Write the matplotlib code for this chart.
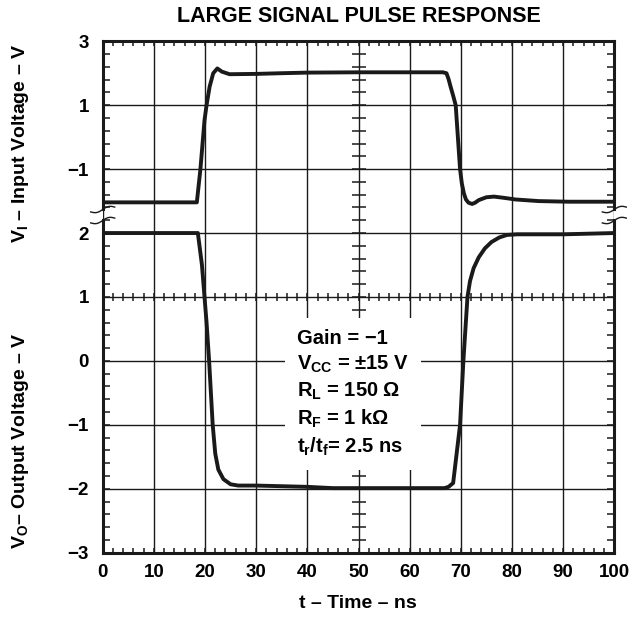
import numpy as np
import matplotlib
matplotlib.use("Agg")
import matplotlib.pyplot as plt
from matplotlib.ticker import FixedLocator, MultipleLocator
from matplotlib.lines import Line2D

plt.rcParams['font.family'] = ['Liberation Sans', 'DejaVu Sans']
plt.rcParams['font.weight'] = 'bold'
plt.rcParams['mathtext.fontset'] = 'custom'
plt.rcParams['mathtext.rm'] = 'Liberation Sans:bold'
plt.rcParams['mathtext.it'] = 'Liberation Sans:bold'
plt.rcParams['mathtext.bf'] = 'Liberation Sans:bold'
plt.rcParams['mathtext.default'] = 'rm'

# input pulse, V_I (top panel)
t_in = [0, 18.4, 19.1, 19.9, 20.3, 20.9, 21.6, 22.4, 23.3, 24.8, 30, 34.6, 40,
        50, 60, 66.5, 67.2, 67.6, 68.0, 68.5, 69.0, 69.85, 70.2, 70.6, 71.0,
        71.5, 72.2, 72.8, 73.5, 75.0, 76.5, 78.5, 80.7, 85.2, 91.1, 100]
v_in = [-2.04, -2.04, -1.0, 0.53, 1.0, 1.58, 2.0, 2.15, 2.05, 1.97, 1.98, 2.0,
        2.02, 2.03, 2.03, 2.03, 2.0, 1.82, 1.58, 1.3, 1.0, -1.0, -1.45, -1.76,
        -1.95, -2.05, -2.09, -2.05, -1.97, -1.88, -1.86, -1.9, -1.95, -2.0,
        -2.02, -2.02]

# output pulse, V_O (bottom panel)
t_out = [0, 18.6, 19.4, 20.3, 20.8, 21.5, 22.0, 22.6, 23.6, 25.0, 26.5, 30,
         40, 45, 60, 66.8, 67.6, 68.5, 69.85, 70.5, 71.3, 71.8, 72.5, 73.5,
         74.7, 76.0, 77.5, 79.0, 81.0, 90, 100]
v_out = [2.0, 2.0, 1.5, 0.6, 0.0, -1.0, -1.45, -1.7, -1.85, -1.93, -1.95,
         -1.95, -1.97, -1.99, -1.99, -1.99, -1.97, -1.91, -1.0, 0.0, 1.0, 1.25,
         1.45, 1.62, 1.76, 1.86, 1.93, 1.97, 1.98, 1.98, 2.0]

time_ticks = list(range(0, 101, 10))
in_ticks = [3, 1, -1]
out_ticks = [2, 1, 0, -1, -2, -3]
conditions = ["Gain = \u22121",
              "V$_{CC}$ = \u00b115 V",
              "R$_L$ = 150 \u03a9",
              "R$_F$ = 1 k\u03a9",
              "t$_r$/t$_f$= 2.5 ns"]

W, H = 642, 621
ink = '#1a1a1a'
fig = plt.figure(figsize=(W / 100, H / 100), dpi=100)


def box(l, t, r, b):
    return [l / W, 1 - b / H, (r - l) / W, (b - t) / H]


ax_in = fig.add_axes(box(102.7, 41.3, 614.3, 214.5))
ax_out = fig.add_axes(box(102.7, 214.5, 614.3, 552.7))
ax_in.set_ylim(-2.42, 3)
ax_out.set_ylim(-3, 2.29)

in_minor = np.arange(3, -2.3, -0.4)
out_minor = np.arange(2.2, -3.05, -0.2)

for ax in (ax_in, ax_out):
    ax.set_xlim(0, 100)
    ax.xaxis.set_major_locator(FixedLocator(time_ticks))
    ax.xaxis.set_minor_locator(MultipleLocator(2))
    ax.grid(True, which='major', color=ink, lw=1.0, zorder=1)
    ax.tick_params(which='both', direction='in', top=True, bottom=True,
                   left=True, right=True, width=1.1, color=ink,
                   labelsize=13.5, labelcolor='black')
    ax.tick_params(axis='y', which='both', length=5, pad=10)
    ax.tick_params(axis='x', which='both', length=3.6, pad=8)
    for s in ax.spines.values():
        s.set_linewidth(2.2)
        s.set_color(ink)

ax_in.yaxis.set_major_locator(FixedLocator(in_ticks))
ax_in.yaxis.set_minor_locator(FixedLocator(in_minor))
ax_out.yaxis.set_major_locator(FixedLocator(out_ticks))
ax_out.yaxis.set_minor_locator(FixedLocator(out_minor))

ax_in.tick_params(axis='x', which='both', bottom=False, labelbottom=False)
ax_out.tick_params(axis='x', which='both', top=False)
ax_in.spines['bottom'].set_visible(False)
ax_out.spines['top'].set_visible(False)
for side in ('left', 'right'):
    ax_in.spines[side].set_bounds(-2.25, 3)
    ax_out.spines[side].set_bounds(-3, 2.2)

# scope-style centre graticule marks
ax_in.plot(np.full(len(in_minor), 50), in_minor, ls='none', marker='_',
           ms=10, mew=1.1, color=ink, zorder=2)
ax_out.plot(np.full(len(out_minor), 50), out_minor, ls='none', marker='_',
            ms=10, mew=1.1, color=ink, zorder=2)
ax_out.plot(np.arange(0, 101, 2), np.ones(51), ls='none', marker='|',
            ms=6, mew=1.1, color=ink, zorder=2)

ax_in.plot(t_in, v_in, color=ink, lw=2.8, solid_joinstyle='round',
           solid_capstyle='butt', zorder=4)
ax_out.plot(t_out, v_out, color=ink, lw=2.8, solid_joinstyle='round',
            solid_capstyle='butt', zorder=4)

ax_out.text(0.38, 0.662, "\n".join(conditions), transform=ax_out.transAxes,
            ha='left', va='top', fontsize=14.5, linespacing=1.35, zorder=5,
            bbox=dict(boxstyle='square,pad=0.6', facecolor='white',
                      edgecolor='none'))

# axis break marks
for cx in (102.7, 614.3):
    for cy in (209.5, 220.5):
        xs = np.linspace(-12, 12, 40)
        ys = 1.8 * np.sin(np.pi * xs / 12) + 0.2 * xs
        fig.add_artist(Line2D((cx + xs) / W, 1 - (cy - ys) / H, color=ink,
                              lw=1.0, transform=fig.transFigure))

fig.text(359 / W, 1 - 17 / H, "LARGE SIGNAL PULSE RESPONSE", ha='center',
         va='center', fontsize=15.5)
fig.text(21 / W, 1 - 143 / H, "V$_I$ \u2013 Input Voltage \u2013 V",
         rotation=90, ha='center', va='center', fontsize=14)
fig.text(21 / W, 1 - 441 / H, "V$_O$\u2013 Output Voltage \u2013 V",
         rotation=90, ha='center', va='center', fontsize=14)
fig.text(358 / W, 1 - 603 / H, "t \u2013 Time \u2013 ns", ha='center',
         va='center', fontsize=14)

fig.savefig("out.png", dpi=100)
